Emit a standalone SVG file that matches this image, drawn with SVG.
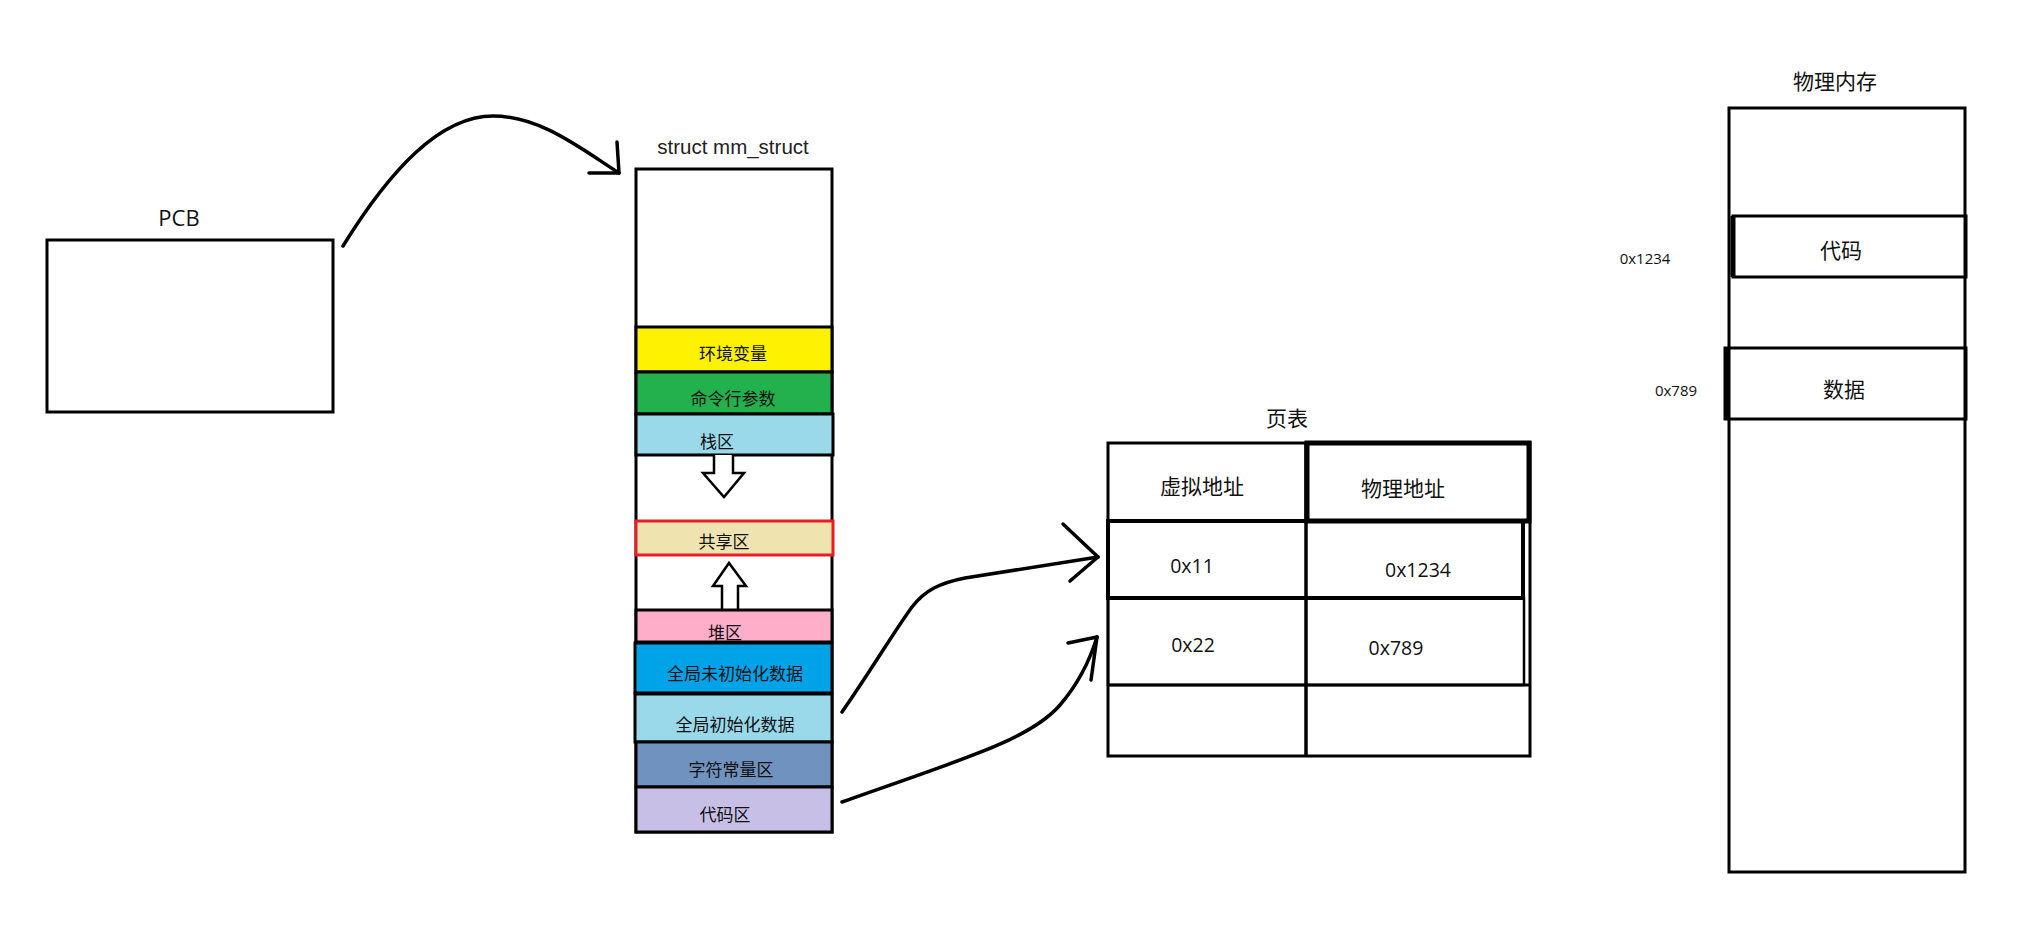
<svg xmlns="http://www.w3.org/2000/svg" width="2037" height="946" viewBox="0 0 2037 946">
<style>
.box{fill:none;stroke:#000;stroke-width:3}
.band{stroke:#000;stroke-width:3}
.cn{font-family:"Noto Sans CJK SC","Noto Sans",sans-serif;fill:#111;text-anchor:middle;dominant-baseline:central}
.lat{font-family:"Open Sans","Noto Sans",sans-serif;fill:#111;text-anchor:middle;dominant-baseline:central}
.conn{fill:none;stroke:#000;stroke-width:3.5;stroke-linecap:round;stroke-linejoin:round}
</style>
<rect width="2037" height="946" fill="#fff"/>

<g id="pcb">
<rect class="box" x="47" y="240" width="286" height="172"/>
<text x="179" y="226" font-family="Open Sans, Noto Sans, sans-serif" font-size="22" text-anchor="middle" fill="#111">PCB</text>
</g>

<g id="mm_struct">
<text x="733" y="154" font-family="Liberation Sans, Arial, sans-serif" font-size="20.5" text-anchor="middle" fill="#222">struct mm_struct</text>
<rect class="box" x="636" y="169" width="196" height="663"/>
<rect class="band" x="636" y="327" width="196" height="45" fill="#FFF200"/>
<text class="cn" x="733" y="352" font-size="17">环境变量</text>
<rect class="band" x="636" y="372" width="196" height="42" fill="#22B14C"/>
<text class="cn" x="733" y="397" font-size="17">命令行参数</text>
<rect class="band" x="636" y="414" width="197" height="41" fill="#99D9EA"/>
<text class="cn" x="717" y="440" font-size="17">栈区</text>
<path d="M714,455 L714,473 L703,473 L724,497 L744,473 L733,473 L733,455" fill="#fff" stroke="#000" stroke-width="2.5" stroke-linejoin="miter"/>
<rect x="636" y="521" width="197" height="34" fill="#EFE4B0" stroke="#ED1C24" stroke-width="3"/>
<text class="cn" x="724" y="540" font-size="17">共享区</text>
<path d="M722,610 L722,586 L713,586 L729,563 L746,586 L738,586 L738,610" fill="#fff" stroke="#000" stroke-width="2.5" stroke-linejoin="miter"/>
<rect class="band" x="636" y="610" width="196" height="32" fill="#FFAEC9"/>
<text class="cn" x="725" y="631" font-size="17">堆区</text>
<rect class="band" x="635" y="643" width="197" height="50" fill="#00A2E8" stroke-width="4"/>
<text class="cn" x="735" y="672" font-size="17">全局未初始化数据</text>
<rect class="band" x="635" y="694" width="197" height="48" fill="#99D9EA" stroke-width="4"/>
<text class="cn" x="735" y="723" font-size="17">全局初始化数据</text>
<rect class="band" x="636" y="742" width="196" height="45" fill="#7092BE"/>
<text class="cn" x="731" y="768" font-size="17">字符常量区</text>
<rect class="band" x="636" y="787" width="196" height="45" fill="#C8BFE7"/>
<text class="cn" x="725" y="813" font-size="17">代码区</text>
</g>

<g id="page_table">
<text class="cn" x="1287" y="417" font-size="21">页表</text>
<rect class="box" x="1108" y="443" width="422" height="313"/>
<rect x="1307" y="443" width="222" height="78" fill="none" stroke="#000" stroke-width="5"/>
<line x1="1306" y1="443" x2="1306" y2="756" stroke="#000" stroke-width="3.5"/>
<line x1="1108" y1="521" x2="1530" y2="521" stroke="#000" stroke-width="3"/>
<rect x="1108" y="521" width="415" height="77" fill="none" stroke="#000" stroke-width="4"/>
<line x1="1108" y1="598" x2="1525" y2="598" stroke="#000" stroke-width="3"/>
<rect x="1108" y="598" width="416" height="87" fill="none" stroke="#000" stroke-width="2.5"/>
<line x1="1108" y1="685" x2="1530" y2="685" stroke="#000" stroke-width="3"/>
<text class="cn" x="1202" y="485" font-size="21">虚拟地址</text>
<text class="cn" x="1403" y="487" font-size="21">物理地址</text>
<text class="lat" x="1192" y="565" font-size="19.5">0x11</text>
<text class="lat" x="1418" y="569" font-size="19.5">0x1234</text>
<text class="lat" x="1193" y="644" font-size="19.5">0x22</text>
<text class="lat" x="1396" y="647" font-size="19.5">0x789</text>
</g>

<g id="physical_memory">
<text class="cn" x="1835" y="80" font-size="21">物理内存</text>
<rect class="box" x="1729" y="108" width="236" height="764" stroke-width="3.5"/>
<rect class="box" x="1733" y="216" width="233" height="61" stroke-width="3.5"/>
<line x1="1733" y1="216" x2="1733" y2="277" stroke="#000" stroke-width="5"/>
<text class="cn" x="1841" y="249" font-size="21">代码</text>
<text class="lat" x="1645" y="258" font-size="15" fill="#333">0x1234</text>
<rect class="box" x="1725" y="348" width="241" height="71" stroke-width="3.5"/>
<line x1="1727" y1="348" x2="1727" y2="419" stroke="#000" stroke-width="5"/>
<text class="cn" x="1844" y="388" font-size="21">数据</text>
<text class="lat" x="1676" y="390" font-size="15" fill="#333">0x789</text>
</g>

<g id="connectors">
<path class="conn" d="M343,246 C390,170 440,116 493,116 C540,116 580,148 619,173"/>
<path class="conn" d="M617,142 L619,173 L589,173"/>
<path class="conn" d="M842,712 C870,672 895,630 912,607 C925,590 940,583 965,578 L1098,557"/>
<path class="conn" d="M1063,524 L1098,557 L1070,581"/>
<path class="conn" d="M842,802 C960,760 1030,740 1060,705 C1078,684 1090,660 1097,637"/>
<path class="conn" d="M1068,643 L1097,637 L1091,680"/>
</g>
</svg>
